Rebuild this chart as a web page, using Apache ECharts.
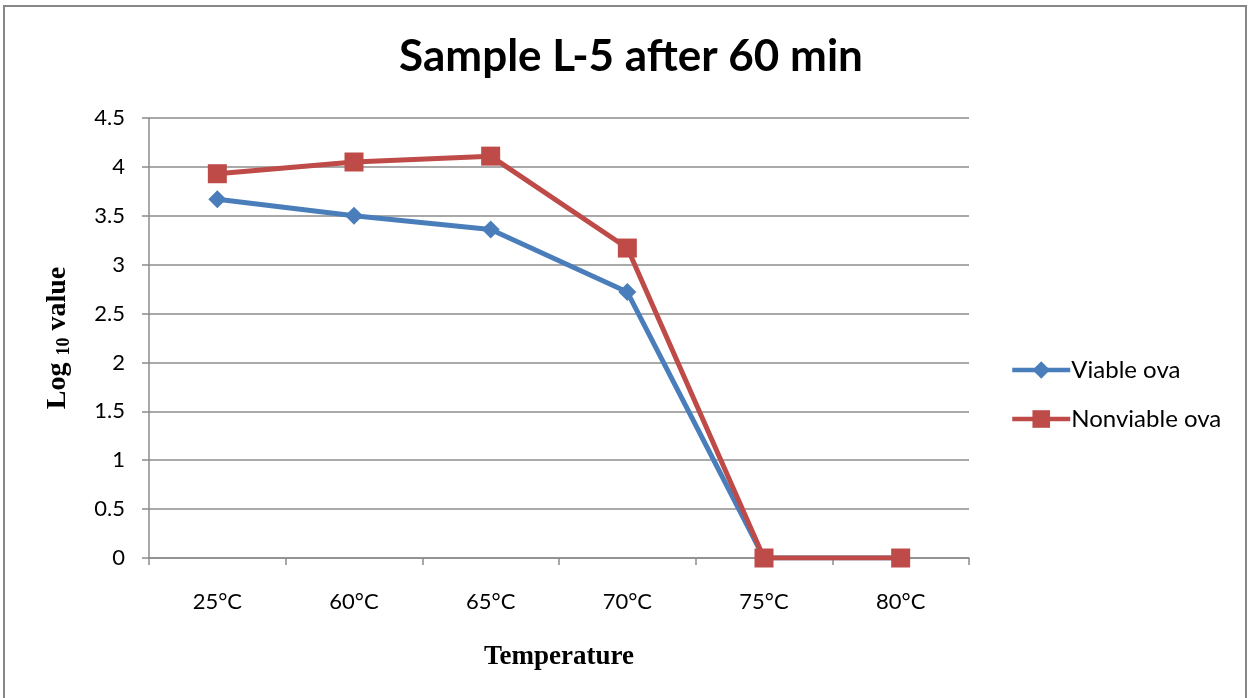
<!DOCTYPE html>
<html>
<head>
<meta charset="utf-8">
<script src="https://cdn.jsdelivr.net/npm/echarts@6/dist/echarts.min.js"></script>
<style>
  html, body { margin: 0; padding: 0; background: #fff; }
  #chart { width: 1250px; height: 698px; }
</style>
</head>
<body>
<div id="chart"></div>
<script>
// Temperature steps and log10 counts for each ova group
const temperatures = ['25°C', '60°C', '65°C', '70°C', '75°C', '80°C'];
const viableOva = [3.67, 3.50, 3.36, 2.72, 0, 0];
const nonviableOva = [3.93, 4.05, 4.11, 3.17, 0, 0];
const yTicks = { min: 0, max: 4.5, interval: 0.5 };

const BLUE = '#4A7EBB';
const RED = '#BE4B48';
const GRID = '#8C8C8C';
const SANS = 'Lato, "Open Sans", sans-serif';
const SERIF = '"Liberation Serif", "DejaVu Serif", serif';

const chart = echarts.init(document.getElementById('chart'));

chart.setOption({
  backgroundColor: '#fff',
  animation: false,
  title: {
    text: 'Sample L-5 after 60 min',
    left: 626,
    textAlign: 'center',
    top: 30,
    textStyle: {
      fontFamily: SANS,
      fontWeight: 'bold',
      fontSize: 44,
      color: '#000'
    }
  },
  graphic: [{
    type: 'rect',
    shape: { x: 4, y: 6, width: 1242, height: 720 },
    style: { fill: 'none', stroke: '#878787', lineWidth: 2 },
    silent: true
  }],
  legend: {
    orient: 'vertical',
    left: 1005,
    top: 353,
    itemWidth: 58,
    itemHeight: 22,
    itemGap: 25,
    textStyle: {
      fontFamily: SANS,
      fontSize: 24,
      color: '#000',
      padding: [0, 0, 0, -4]
    },
    data: [
      { name: 'Viable ova', lineStyle: { width: 4.5, color: BLUE } },
      { name: 'Nonviable ova', lineStyle: { width: 4.5, color: RED } }
    ]
  },
  grid: {
    left: 149,
    right: 281,
    top: 118,
    bottom: 140,
    containLabel: false
  },
  xAxis: {
    type: 'category',
    data: temperatures,
    boundaryGap: true,
    name: 'Temperature',
    nameLocation: 'middle',
    nameGap: 86,
    nameTextStyle: {
      fontFamily: SERIF,
      fontWeight: 'bold',
      fontSize: 27,
      color: '#000'
    },
    axisLine: { show: true, lineStyle: { color: GRID, width: 1.5 } },
    axisTick: { show: true, length: 7, alignWithLabel: false, lineStyle: { color: GRID, width: 1.5 } },
    axisLabel: {
      margin: 33,
      fontFamily: SANS,
      fontSize: 22,
      color: '#000'
    },
    splitLine: { show: false }
  },
  yAxis: {
    type: 'value',
    min: yTicks.min,
    max: yTicks.max,
    interval: yTicks.interval,
    name: '{a|Log }{b|10}{a| value}',
    nameLocation: 'middle',
    nameGap: 76,
    nameRotate: 90,
    nameTextStyle: {
      rich: {
        a: {
          fontFamily: SERIF,
          fontWeight: 'bold',
          fontSize: 28,
          color: '#000'
        },
        b: {
          fontFamily: SERIF,
          fontWeight: 'bold',
          fontSize: 18,
          color: '#000',
          padding: [12, 0, 0, 0]
        }
      }
    },
    axisLine: { show: true, lineStyle: { color: GRID, width: 1.5 } },
    axisTick: { show: true, length: 7, lineStyle: { color: GRID, width: 1.5 } },
    axisLabel: {
      margin: 24,
      fontFamily: SANS,
      fontSize: 22,
      color: '#000',
      formatter: v => String(v)
    },
    splitLine: { show: true, lineStyle: { color: GRID, width: 1.5 } }
  },
  series: [
    {
      name: 'Viable ova',
      type: 'line',
      data: viableOva,
      symbol: 'diamond',
      symbolSize: 18,
      lineStyle: { color: BLUE, width: 5 },
      itemStyle: { color: BLUE },
      z: 2
    },
    {
      name: 'Nonviable ova',
      type: 'line',
      data: nonviableOva,
      symbol: 'rect',
      symbolSize: 19,
      lineStyle: { color: RED, width: 5 },
      itemStyle: { color: RED },
      z: 3
    }
  ]
});
</script>
</body>
</html>
